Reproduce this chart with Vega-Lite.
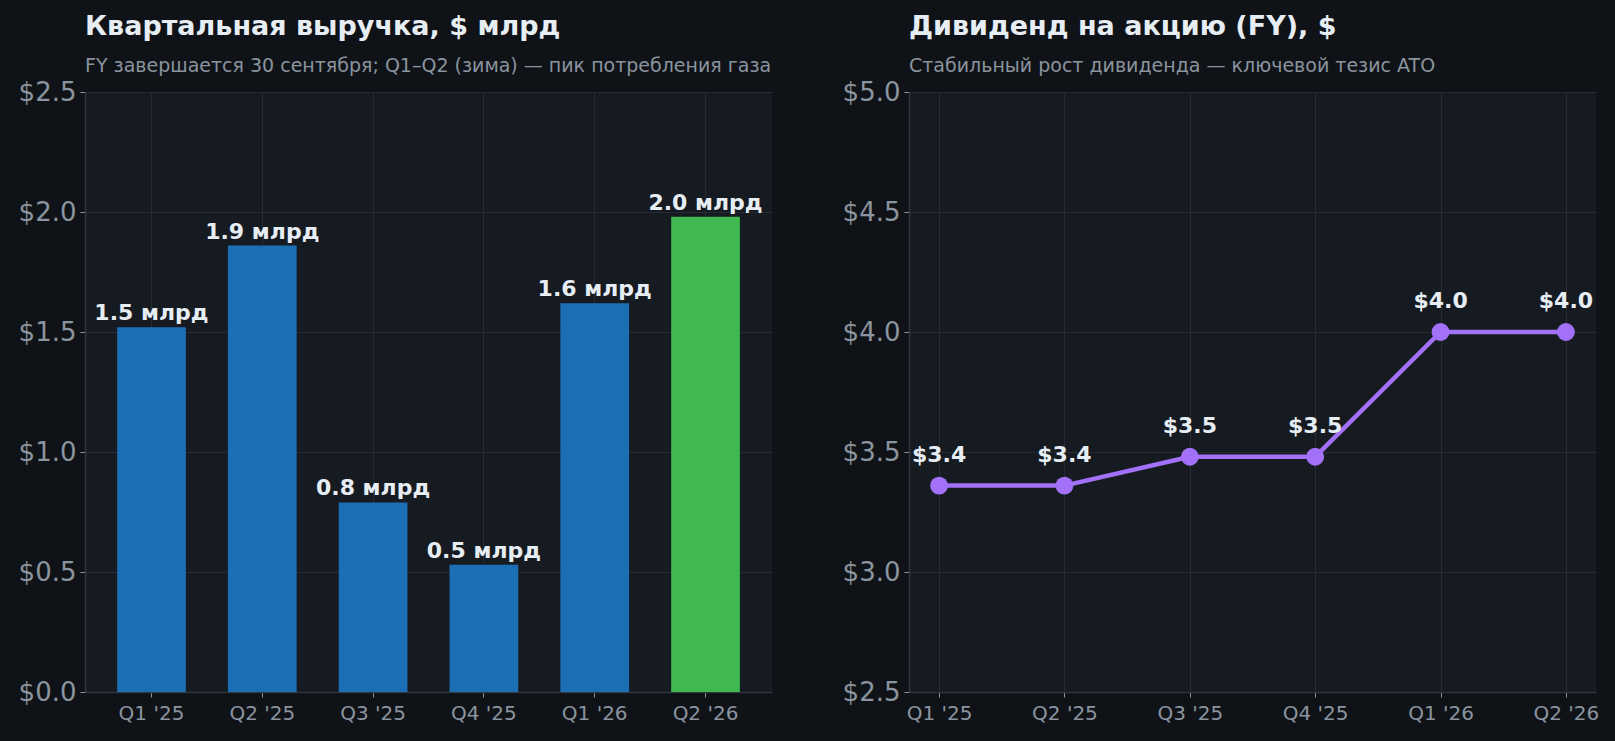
{
  "$schema": "https://vega.github.io/schema/vega-lite/v6.json",
  "background": "#0f1318",
  "padding": {"left": 18, "top": 13, "right": 16, "bottom": 18},
  "spacing": 137,
  "bounds": "flush",
  "config": {
    "font": "DejaVu Sans",
    "view": {"fill": "#161b22", "stroke": null},
    "title": {
      "anchor": "start",
      "frame": "group",
      "fontSize": 27,
      "fontWeight": "bold",
      "color": "#e6edf3",
      "subtitleFontSize": 19,
      "subtitleColor": "#8b949e",
      "subtitlePadding": 16,
      "offset": 2
    },
    "axis": {
      "labelColor": "#8b949e",
      "labelFont": "DejaVu Sans",
      "gridColor": "#262b34",
      "gridWidth": 1,
      "domainColor": "#30363d",
      "domainWidth": 1.5,
      "tickColor": "#8b949e",
      "tickSize": 5,
      "title": null
    },
    "axisY": {"labelFontSize": 26, "labelPadding": 4},
    "axisX": {"labelFontSize": 20, "labelPadding": 6}
  },
  "datasets": {
    "rev": [
      {"q": "Q1 '25", "rev": 1.52},
      {"q": "Q2 '25", "rev": 1.86},
      {"q": "Q3 '25", "rev": 0.79},
      {"q": "Q4 '25", "rev": 0.53},
      {"q": "Q1 '26", "rev": 1.62},
      {"q": "Q2 '26", "rev": 1.98}
    ],
    "div": [
      {"q": "Q1 '25", "div": 3.36},
      {"q": "Q2 '25", "div": 3.36},
      {"q": "Q3 '25", "div": 3.48},
      {"q": "Q4 '25", "div": 3.48},
      {"q": "Q1 '26", "div": 4.0},
      {"q": "Q2 '26", "div": 4.0}
    ]
  },
  "hconcat": [
    {
      "width": 687,
      "height": 600,
      "title": {
        "text": "Квартальная выручка, $ млрд",
        "subtitle": "FY завершается 30 сентября; Q1–Q2 (зима) — пик потребления газа"
      },
      "data": {"name": "rev"},
      "transform": [
        {"calculate": "format(datum.rev, '.1f') + ' млрд'", "as": "label"}
      ],
      "encoding": {
        "x": {
          "field": "q",
          "type": "nominal",
          "sort": null,
          "scale": {"paddingInner": 0.38, "paddingOuter": 0.29},
          "axis": {"labelAngle": 0, "bandPosition": 0.5, "grid": true}
        },
        "y": {
          "field": "rev",
          "type": "quantitative",
          "scale": {"domain": [0, 2.5], "nice": false},
          "axis": {"values": [0, 0.5, 1, 1.5, 2, 2.5], "format": "$.1f", "grid": true}
        }
      },
      "layer": [
        {
          "mark": {"type": "bar"},
          "encoding": {
            "color": {
              "condition": {"test": "datum.q === \"Q2 '26\"", "value": "#3fb950"},
              "value": "#1c6fb5"
            }
          }
        },
        {
          "mark": {
            "type": "text",
            "baseline": "bottom",
            "dy": -2,
            "fontSize": 22,
            "fontWeight": "bold",
            "color": "#e6edf3"
          },
          "encoding": {"text": {"field": "label"}}
        }
      ]
    },
    {
      "width": 687,
      "height": 600,
      "title": {
        "text": "Дивиденд на акцию (FY), $",
        "subtitle": "Стабильный рост дивиденда — ключевой тезис ATO"
      },
      "data": {"name": "div"},
      "transform": [
        {"calculate": "'$' + format(datum.div, '.1f')", "as": "label"}
      ],
      "encoding": {
        "x": {
          "field": "q",
          "type": "ordinal",
          "sort": null,
          "scale": {"type": "point", "padding": 0.24},
          "axis": {"labelAngle": 0, "grid": true}
        },
        "y": {
          "field": "div",
          "type": "quantitative",
          "scale": {"domain": [2.5, 5], "nice": false, "zero": false},
          "axis": {"values": [2.5, 3, 3.5, 4, 4.5, 5], "format": "$.1f", "grid": true}
        }
      },
      "layer": [
        {"mark": {"type": "line", "color": "#a371f7", "strokeWidth": 4.5}},
        {"mark": {"type": "point", "filled": true, "color": "#a371f7", "size": 320, "opacity": 1}},
        {
          "mark": {
            "type": "text",
            "baseline": "bottom",
            "dy": -19,
            "fontSize": 22,
            "fontWeight": "bold",
            "color": "#e6edf3"
          },
          "encoding": {"text": {"field": "label"}}
        }
      ]
    }
  ]
}
